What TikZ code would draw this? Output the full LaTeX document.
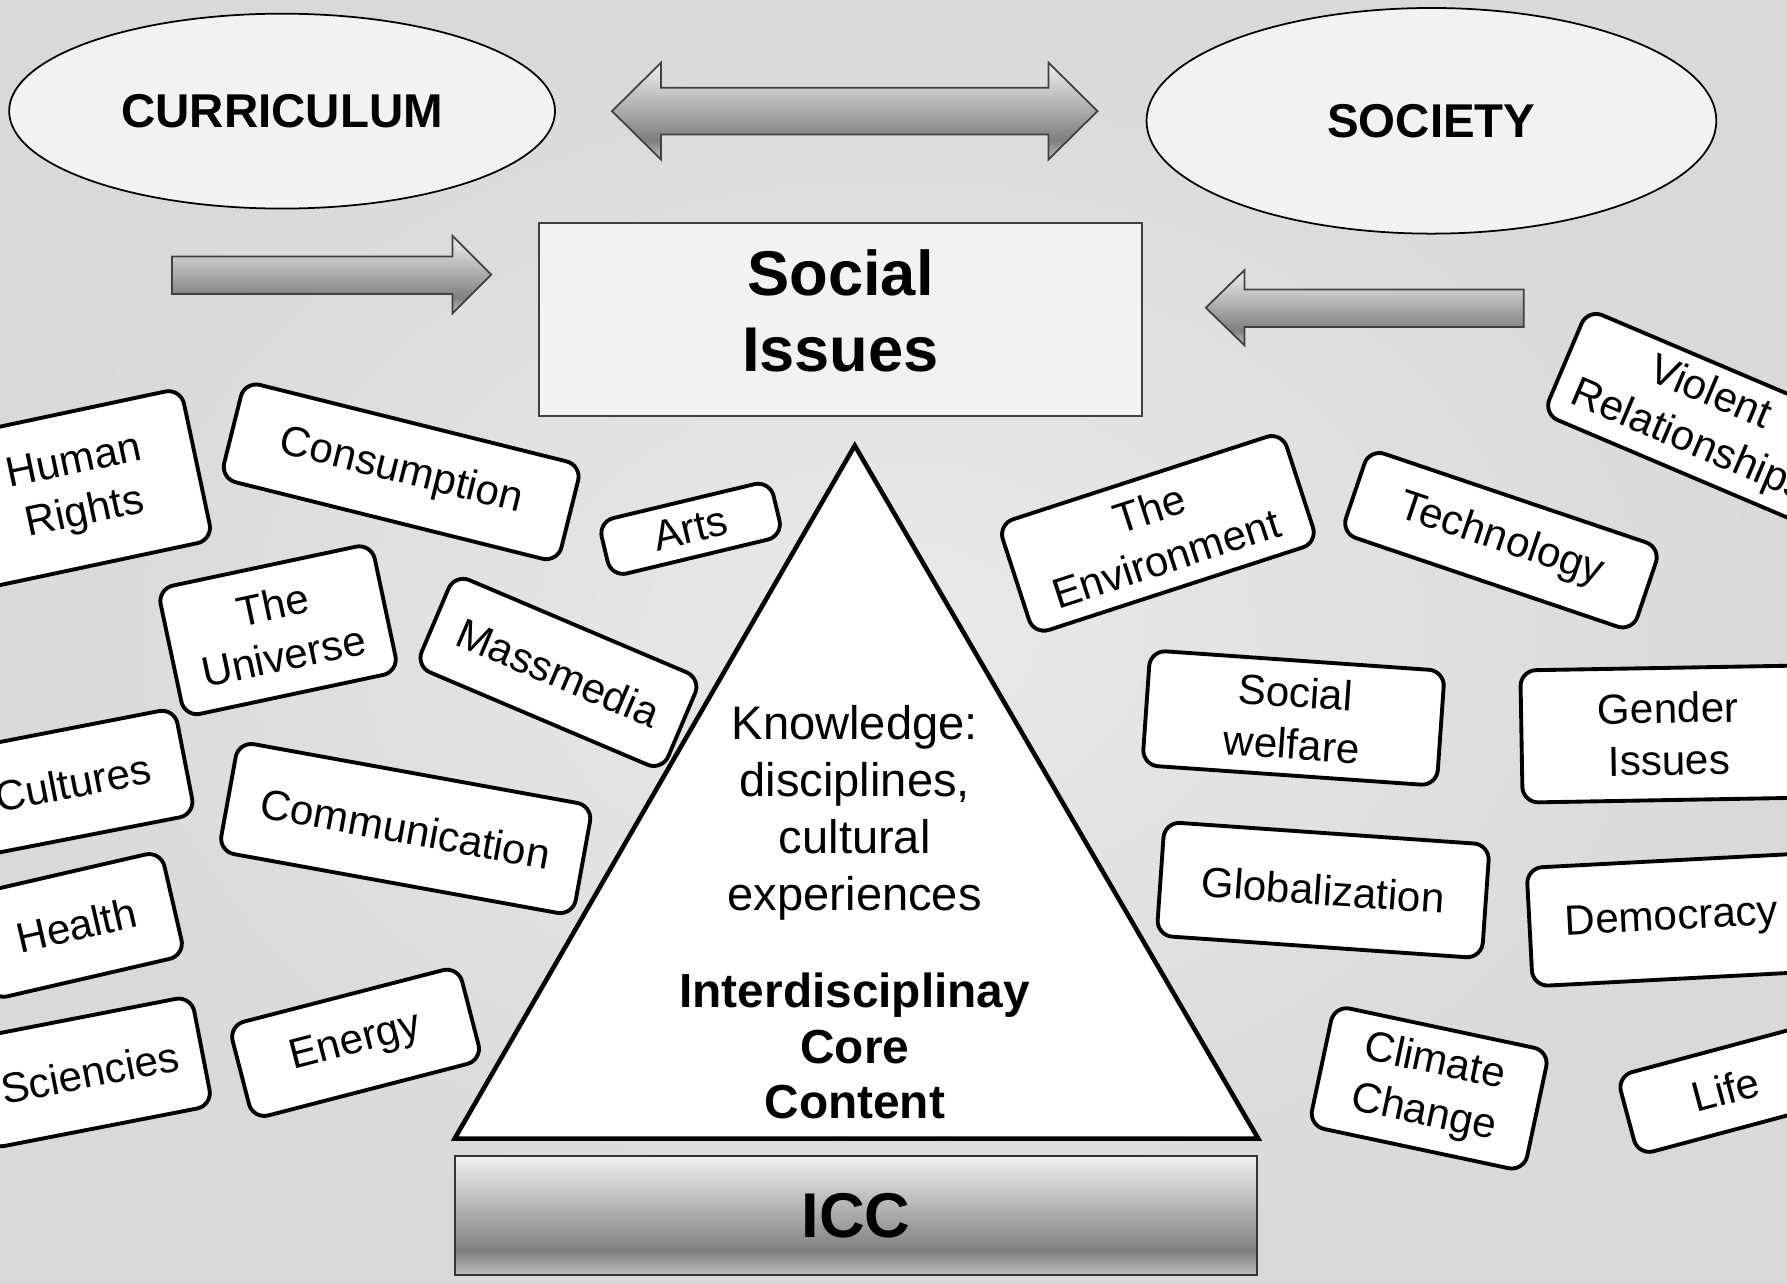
\documentclass[tikz,border=0pt]{standalone}
\usepackage{fontspec}
\setmainfont{Liberation Sans}
\usetikzlibrary{shapes.geometric}
\definecolor{bgin}{RGB}{233,233,233}
\definecolor{bgout}{RGB}{217,217,217}
\definecolor{panel}{RGB}{242,242,242}
\pgfdeclareverticalshading{metal}{100bp}{%
  color(0bp)=(black!25); color(25bp)=(black!25); color(35bp)=(black!50);
  color(75bp)=(black!6); color(100bp)=(black!6)}
\newcommand{\pxu}{0.011397cm}
\tikzset{
  issue/.style={draw=black, line width=1.1pt, fill=white, rounded corners=4.5pt,
    align=center, inner sep=1pt, font=\fontsize{12}{14.8}\selectfont},
  wh/.style 2 args={minimum width=#1*\pxu, minimum height=#2*\pxu},
  bubble/.style={ellipse, draw=black, line width=0.5pt, fill=panel, inner sep=0pt,
    font=\fontsize{13.5}{16}\selectfont\bfseries},
  blockarrow/.style={draw=black!75, line width=0.5pt, shading=metal},
  pyramid/.style={draw=black, line width=1.3pt, fill=white},
  headline/.style={align=center, font=\fontsize{18}{21.7}\selectfont\bfseries}
}

\begin{document}
\begin{tikzpicture}[x=0.011397cm, y=-0.011397cm]
  \useasboundingbox (0,0) rectangle (1568,1126);
  \fill[inner color=bgin, outer color=bgout] (0,0) rectangle (1568,1126);

  % the two poles
  \node[bubble, wh={479}{171}] (curriculum) at (247.5,97.5) {CURRICULUM};
  \node[bubble, wh={500}{198}] (society) at (1256,106) {SOCIETY};

  % block arrows
  \path[blockarrow] (537,97.5) -- (580,55) -- (580,77) -- (920,77) -- (920,55)
    -- (963,97.5) -- (920,140) -- (920,118) -- (580,118) -- (580,140) -- cycle;
  \path[blockarrow] (151,225) -- (397,225) -- (397,207) -- (431,241)
    -- (397,275) -- (397,258) -- (151,258) -- cycle;
  \path[blockarrow] (1337,254) -- (1092,254) -- (1092,237) -- (1058,270)
    -- (1092,303) -- (1092,287) -- (1337,287) -- cycle;

  \node[draw=black!75, line width=0.6pt, fill=panel, wh={529}{169}] (social) at (737.5,280.5) {};
  \node[headline] (socialtext) at ([yshift=2.4pt]social.center) {Social\\Issues};

  % the pyramid
  \coordinate (apex) at (750,391);
  \draw[pyramid] (apex) -- (1104,999) -- (399,999) -- cycle;
  \node[align=center, font=\fontsize{13.4}{16.2}\selectfont] (knowledge) at (750,713)
    {Knowledge:\\disciplines,\\cultural\\experiences};
  \node[align=center, font=\fontsize{13.6}{15.8}\selectfont\bfseries] (core) at (750,918)
    {Interdisciplinay\\Core\\Content};
  \node[draw=black!80, line width=0.5pt, shading=metal, wh={704}{105},
    font=\fontsize{18}{21}\selectfont\bfseries] (icc) at (751,1066.5) {ICC};

  % left cards
  \node[issue, wh={210}{136}, rotate=12] (rights) at (70,429) {Human\\Rights};
  \node[issue, wh={305}{88}, rotate=-14] (consumption) at (352,414) {Consumption};
  \node[issue, wh={155}{50}, rotate=13.5] (arts) at (606,464) {Arts};
  \node[issue, wh={192}{115}, rotate=12] (universe) at (244,553) {The\\Universe};
  \node[issue, wh={235}{88}, rotate=-23] (massmedia) at (490,590) {Massmedia};
  \node[issue, wh={200}{95}, rotate=11] (cultures) at (64,687) {Cultures};
  \node[issue, wh={316}{98}, rotate=-10.3] (communication) at (356,727) {Communication};
  \node[issue, wh={174}{94}, rotate=13] (health) at (67,812) {Health};
  \node[issue, wh={200}{98}, rotate=11] (sciencies) at (79,941) {Sciencies};
  \node[issue, wh={208}{85}, rotate=14.5] (energy) at (312,915) {Energy};

  % right cards
  \node[issue, wh={262}{102}, rotate=18] (environment) at (1016,468) {The\\Environment};
  \node[issue, wh={270}{78}, rotate=-18.7] (technology) at (1317,474) {Technology};
  \node[issue, wh={255}{100}, rotate=-23] (violence) at (1491,367) {Violent\\Relationships};
  \node[issue, wh={259}{101}, rotate=-4] (welfare) at (1135,630) {Social\\welfare};
  \node[issue, wh={258}{116}, rotate=1] (gender) at (1464,644) {Gender\\Issues};
  \node[issue, wh={286}{100}, rotate=-4] (globalization) at (1161,781) {Globalization};
  \node[issue, wh={250}{104}, rotate=3] (democracy) at (1467,807) {Democracy};
  \node[issue, wh={193}{108}, rotate=-12] (climate) at (1254,955) {Climate\\Change};
  \node[issue, wh={178}{72}, rotate=15] (life) at (1514,956) {Life};
\end{tikzpicture}
\end{document}
